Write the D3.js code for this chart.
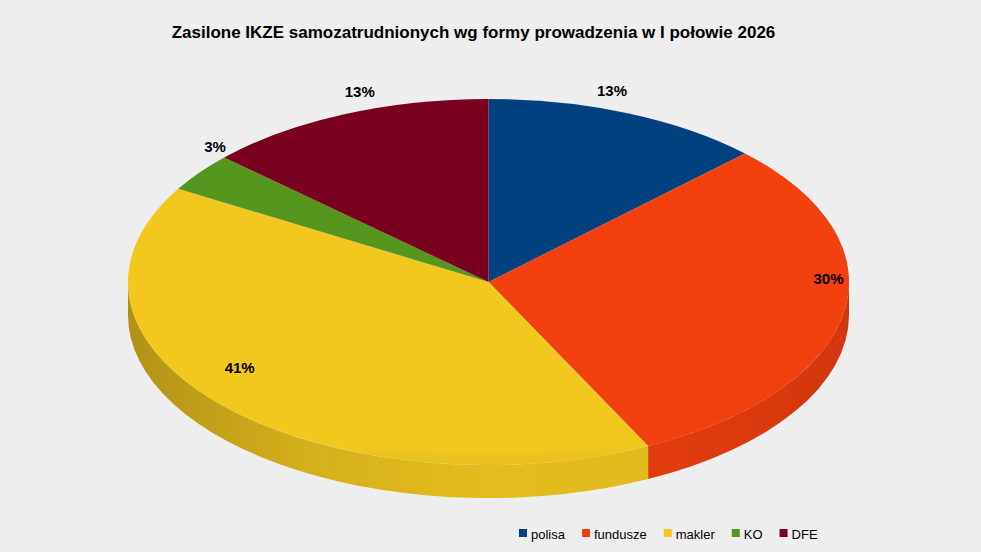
<!DOCTYPE html>
<html lang="pl">
<head>
  <meta charset="UTF-8" />
  <title>Zasilone IKZE samozatrudnionych</title>
  <script src="https://cdn.jsdelivr.net/npm/d3@7"></script>
  <style>
    body { margin: 0; background: #eeeeee; }
    svg { display: block; font-family: Arial, "Liberation Sans", sans-serif; }
  </style>
</head>
<body>
  <svg id="chart" width="981" height="552"></svg>
  <script>
    // Data
    var categories = ["polisa", "fundusze", "makler", "KO", "DFE"];
    var shares = [12.6, 30.1, 40.8, 3.4, 13.1];
    var colors = ["#00427f", "#f3400f", "#f2c81f", "#55961f", "#7a0020"];
    var title = "Zasilone IKZE samozatrudnionych wg formy prowadzenia w I połowie 2026";

    var width = 981, height = 552;
    var cx = 488.5, cy = 282, rx = 360.5, ry = 183, depth = 33;

    var svg = d3.select("#chart");
    svg.append("rect").attr("width", width).attr("height", height).attr("fill", "#eeeeee");

    var defs = svg.append("defs");
    // shading along the side wall: darker towards both ends
    var sideGrad = defs.append("linearGradient")
      .attr("id", "sideShade")
      .attr("gradientUnits", "userSpaceOnUse")
      .attr("x1", cx - rx).attr("x2", cx + rx).attr("y1", 0).attr("y2", 0);
    sideGrad.append("stop").attr("offset", "0%").attr("stop-color", "#000").attr("stop-opacity", 0.27);
    sideGrad.append("stop").attr("offset", "25%").attr("stop-color", "#000").attr("stop-opacity", 0.12);
    sideGrad.append("stop").attr("offset", "50%").attr("stop-color", "#000").attr("stop-opacity", 0.06);
    sideGrad.append("stop").attr("offset", "75%").attr("stop-color", "#000").attr("stop-opacity", 0.07);
    sideGrad.append("stop").attr("offset", "100%").attr("stop-color", "#000").attr("stop-opacity", 0.14);

    var pie = d3.pie().sort(null).value(d => d)(shares);

    // point on the ellipse for a d3 angle (0 at top, clockwise)
    function ex(a) { return cx + rx * Math.sin(a); }
    function ey(a) { return cy - ry * Math.cos(a); }

    // side walls (only the front half is visible)
    var sides = svg.append("g");
    pie.forEach(function(p, i) {
      var a1 = Math.max(p.startAngle, Math.PI / 2);
      var a2 = Math.min(p.endAngle, 3 * Math.PI / 2);
      if (a2 <= a1) return;
      var d = "M" + ex(a1) + "," + ey(a1) +
        " A" + rx + "," + ry + " 0 0 1 " + ex(a2) + "," + ey(a2) +
        " L" + ex(a2) + "," + (ey(a2) + depth) +
        " A" + rx + "," + ry + " 0 0 0 " + ex(a1) + "," + (ey(a1) + depth) + " Z";
      sides.append("path").attr("d", d).attr("fill", colors[i]);
      sides.append("path").attr("d", d).attr("fill", "url(#sideShade)");
    });

    // top face
    var arc = d3.arc().innerRadius(0).outerRadius(rx);
    var topFace = svg.append("g")
      .attr("transform", "translate(" + cx + "," + cy + ") scale(1," + (ry / rx) + ")");
    topFace.selectAll("path.slice")
      .data(pie)
      .join("path")
      .attr("class", "slice")
      .attr("d", arc)
      .attr("fill", (d, i) => colors[i]);

    // faint darker rim along the front edge of the top face
    var rimGrad = defs.append("linearGradient")
      .attr("id", "rimShade")
      .attr("gradientUnits", "userSpaceOnUse")
      .attr("x1", 0).attr("x2", 0).attr("y1", cy + ry - 20).attr("y2", cy + ry);
    rimGrad.append("stop").attr("offset", "0%").attr("stop-color", "#000").attr("stop-opacity", 0);
    rimGrad.append("stop").attr("offset", "60%").attr("stop-color", "#000").attr("stop-opacity", 0.03);
    rimGrad.append("stop").attr("offset", "100%").attr("stop-color", "#000").attr("stop-opacity", 0.04);
    svg.append("path")
      .attr("d", "M" + (cx - rx) + "," + cy +
        " A" + rx + "," + ry + " 0 0 0 " + (cx + rx) + "," + cy +
        " A" + rx + "," + (ry - 12) + " 0 0 1 " + (cx - rx) + "," + cy + " Z")
      .attr("fill", "url(#rimShade)");

    // percentage labels: just inside the rim, lifted a little
    function mid(d) { return (d.startAngle + d.endAngle) / 2; }
    svg.append("g").selectAll("text")
      .data(pie)
      .join("text")
      .attr("x", d => cx + rx * Math.sin(mid(d)) - 15.5 * Math.sign(Math.sin(mid(d))))
      .attr("y", d => cy - 0.945 * ry * Math.cos(mid(d)) - 32 + 5.5)
      .attr("text-anchor", "middle")
      .attr("font-size", 15)
      .attr("font-weight", "bold")
      .attr("fill", "#000")
      .text(d => Math.round(d.value) + "%");

    // title
    svg.append("text")
      .attr("x", 473.5).attr("y", 38)
      .attr("text-anchor", "middle")
      .attr("font-size", 17)
      .attr("font-weight", "bold")
      .attr("fill", "#000")
      .text(title);

    // legend
    var legend = svg.append("g");
    var lx = 519;
    categories.forEach(function(name, i) {
      legend.append("rect")
        .attr("x", lx).attr("y", 529)
        .attr("width", 8).attr("height", 8)
        .attr("fill", colors[i]);
      var t = legend.append("text")
        .attr("x", lx + 12).attr("y", 539)
        .attr("font-size", 13)
        .attr("fill", "#000")
        .text(name);
      lx += 12 + t.node().getComputedTextLength() + 17;
    });
  </script>
</body>
</html>
